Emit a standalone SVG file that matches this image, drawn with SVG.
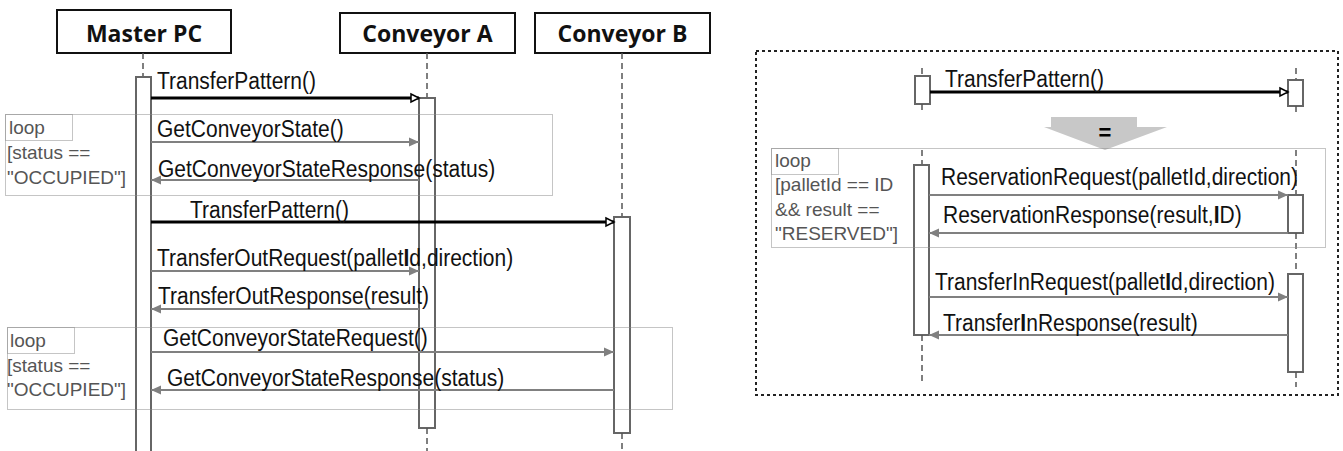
<svg xmlns="http://www.w3.org/2000/svg" width="1343" height="451" viewBox="0 0 1343 451">
  <style>
    .head { fill: #fff; stroke: #111; stroke-width: 2; }
    .headtxt { font-family: "Open Sans", "Liberation Sans", sans-serif; font-weight: bold; font-size: 23px; fill: #111; text-anchor: middle; }
    .life { stroke: #555; stroke-width: 1.5; stroke-dasharray: 6 4; fill: none; }
    .act { fill: #fff; stroke: #666; stroke-width: 2; }
    .frame { fill: none; stroke: #8a8a8a; stroke-width: 1; stroke-dasharray: 1 1; }
    .outer { fill: none; stroke: #222; stroke-width: 2; stroke-dasharray: 3 3; }
    .msg { font-family: "Liberation Sans", Arial, sans-serif; font-size: 21px; fill: #111;
           transform-box: fill-box; transform-origin: 0 100%; transform: scaleY(1.1); }
    .guard { font-family: "Liberation Sans", Arial, sans-serif; font-size: 19px; fill: #555; }
    .b { font-weight: bold; }
    .call { stroke: #000; stroke-width: 3; fill: none; marker-end: url(#openHead); }
    .sig { stroke: #808080; stroke-width: 2; fill: none; marker-end: url(#grayHead); }
  </style>
  <defs>
    <marker id="grayHead" markerUnits="userSpaceOnUse" markerWidth="11" markerHeight="10" refX="10" refY="5" orient="auto" overflow="visible">
      <path d="M0,0.5 L10,5 L0,9.5 z" fill="#808080"/>
    </marker>
    <marker id="openHead" markerUnits="userSpaceOnUse" markerWidth="10" markerHeight="10" refX="8" refY="4" orient="auto" overflow="visible">
      <path d="M0,0 L8,4 L0,8 z" fill="#fff" stroke="#000" stroke-width="1.5"/>
    </marker>
  </defs>

  <!-- Lifeline heads -->
  <g id="master-pc">
    <rect class="head" x="57" y="10" width="174" height="43"/>
    <text class="headtxt" x="144" y="42">Master PC</text>
    <line class="life" x1="143" y1="53" x2="143" y2="77"/>
    <rect class="act" x="136" y="77" width="15" height="380"/>
  </g>
  <g id="conveyor-a">
    <rect class="head" x="340" y="13" width="175" height="40"/>
    <text class="headtxt" x="427.5" y="42">Conveyor A</text>
    <line class="life" x1="427" y1="53" x2="427" y2="98"/>
    <rect class="act" x="419" y="98" width="16" height="330"/>
    <line class="life" x1="427" y1="428" x2="427" y2="451"/>
  </g>
  <g id="conveyor-b">
    <rect class="head" x="535" y="13" width="175" height="40"/>
    <text class="headtxt" x="622.5" y="42">Conveyor B</text>
    <line class="life" x1="622" y1="53" x2="622" y2="217"/>
    <rect class="act" x="614" y="217" width="16" height="216"/>
    <line class="life" x1="622" y1="433" x2="622" y2="451"/>
  </g>

  <!-- Loop fragments, left sequence -->
  <g id="loop-state-a">
    <rect class="frame" x="5.5" y="114.5" width="547" height="81"/>
    <rect class="frame" x="5.5" y="114.5" width="67" height="26"/>
    <text class="guard" x="9" y="134">loop</text>
    <text class="guard" x="7" y="159">[status ==</text>
    <text class="guard" x="7" y="184">"OCCUPIED"]</text>
  </g>
  <g id="loop-state-b">
    <rect class="frame" x="7.5" y="327.5" width="665" height="82"/>
    <rect class="frame" x="7.5" y="327.5" width="67" height="26"/>
    <text class="guard" x="10" y="347">loop</text>
    <text class="guard" x="7" y="372">[status ==</text>
    <text class="guard" x="7" y="396">"OCCUPIED"]</text>
  </g>

  <!-- Equivalent expansion of TransferPattern() -->
  <g id="expansion">
    <rect class="outer" x="756" y="51" width="582" height="344"/>

    <g id="sender">
      <line class="life" x1="922" y1="68" x2="922" y2="76"/>
      <rect class="act" x="915" y="76" width="15" height="28"/>
      <line class="life" x1="922" y1="104" x2="922" y2="112"/>
      <line class="life" x1="922" y1="150" x2="922" y2="165"/>
      <rect class="act" x="914" y="165" width="15" height="170"/>
      <line class="life" x1="922" y1="335" x2="922" y2="385"/>
    </g>
    <g id="receiver">
      <line class="life" x1="1296" y1="68" x2="1296" y2="80"/>
      <rect class="act" x="1288" y="80" width="15" height="26"/>
      <line class="life" x1="1296" y1="106" x2="1296" y2="112"/>
      <line class="life" x1="1296" y1="150" x2="1296" y2="195"/>
      <rect class="act" x="1288" y="195" width="15" height="38"/>
      <line class="life" x1="1296" y1="233" x2="1296" y2="274"/>
      <rect class="act" x="1288" y="274" width="15" height="98"/>
      <line class="life" x1="1296" y1="372" x2="1296" y2="387"/>
    </g>

    <g id="equals-arrow">
      <polygon points="1051,117 1137,117 1137,127 1167,127 1105,150 1044,127 1051,127" fill="#c8c8c8"/>
      <text x="1105" y="140" text-anchor="middle" font-family="Liberation Sans, Arial, sans-serif" font-weight="bold" font-size="22" fill="#000">=</text>
    </g>

    <g id="loop-reservation">
      <rect class="frame" x="771.5" y="148.5" width="554" height="99"/>
      <rect class="frame" x="771.5" y="148.5" width="67" height="26"/>
      <text class="guard" x="775" y="167">loop</text>
      <text class="guard" x="775" y="191">[palletId == ID</text>
      <text class="guard" x="775" y="216">&amp;&amp; result ==</text>
      <text class="guard" x="775" y="240">"RESERVED"]</text>
    </g>
  </g>

  <!-- Messages -->
  <g id="connectors">
    <line class="call" x1="151" y1="98" x2="419" y2="98"/>
    <line class="sig" x1="151" y1="142" x2="419" y2="142"/>
    <line class="sig" x1="419" y1="180" x2="151" y2="180"/>
    <line class="call" x1="151" y1="222" x2="614" y2="222"/>
    <line class="sig" x1="151" y1="271" x2="419" y2="271"/>
    <line class="sig" x1="419" y1="309" x2="151" y2="309"/>
    <line class="sig" x1="151" y1="352" x2="614" y2="352"/>
    <line class="sig" x1="614" y1="390" x2="151" y2="390"/>

    <line class="call" x1="930" y1="92" x2="1288" y2="92"/>
    <line class="sig" x1="929" y1="195" x2="1288" y2="195"/>
    <line class="sig" x1="1288" y1="233" x2="929" y2="233"/>
    <line class="sig" x1="929" y1="297" x2="1288" y2="297"/>
    <line class="sig" x1="1288" y1="335" x2="929" y2="335"/>
  </g>

  <!-- Message labels -->
  <g id="labels">
    <text class="msg" x="157" y="89">TransferPattern()</text>
    <text class="msg" x="157" y="137">GetConveyorState()</text>
    <text class="msg" x="158" y="177">GetConveyorStateResponse(status)</text>
    <text class="msg" x="190" y="218">TransferPattern()</text>
    <text class="msg" x="157" y="266">TransferOutRequest(pallet<tspan class="b">I</tspan>d,direction)</text>
    <text class="msg" x="158" y="304">TransferOutResponse(result)</text>
    <text class="msg" x="163" y="346">GetConveyorStateRequest()</text>
    <text class="msg" x="167" y="386">GetConveyorStateResponse(status)</text>

    <text class="msg" x="945" y="87">TransferPattern()</text>
    <text class="msg" x="941" y="185">ReservationRequest(palletId,direction)</text>
    <text class="msg" x="943" y="223">ReservationResponse(result,<tspan class="b">I</tspan>D)</text>
    <text class="msg" x="935" y="290">TransferInRequest(pallet<tspan class="b">I</tspan>d,direction)</text>
    <text class="msg" x="943" y="331">Transfer<tspan class="b">I</tspan>nResponse(result)</text>
  </g>
</svg>
